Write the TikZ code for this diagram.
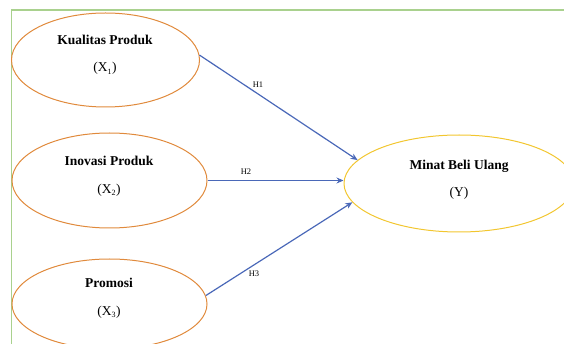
\documentclass[tikz,border=0pt]{standalone}
\usepackage{fontspec}
\setmainfont{Liberation Serif}
\usetikzlibrary{shapes.geometric,arrows.meta}

\definecolor{frame}{HTML}{A9D18E}
\definecolor{varline}{HTML}{E08A3C}
\definecolor{depline}{HTML}{F2C62F}
\definecolor{pathline}{HTML}{4A68B8}

\newcommand{\varsub}[1]{\textsubscript{\fontsize{8}{8}\selectfont#1}}

\begin{document}
\begin{tikzpicture}[x=1pt,y=-1pt,
	var/.style={ellipse, draw=varline, line width=1pt, inner sep=0pt},
	dep/.style={ellipse, draw=depline, line width=1pt, inner sep=0pt},
	vartext/.style={align=center, font=\fontsize{13.5}{27.5}\selectfont},
	hyp/.style={draw=pathline, line width=1.2pt, -{Stealth[length=7pt,width=6pt]}},
	hlabel/.style={font=\fontsize{8.5}{10}\selectfont, inner sep=1pt}]

	\useasboundingbox (0,0) rectangle (564,344);

	% frame
	\draw[frame, line width=1.5pt] (11.5,344) -- (11.5,10) -- (564,10);

	% variables
	\node[var, minimum width=188pt, minimum height=94pt] (kp) at (105.5,60) {};
	\node[var, minimum width=195pt, minimum height=95pt] (ip) at (109.5,180.5) {};
	\node[var, minimum width=195pt, minimum height=90pt] (pr) at (109.5,304) {};
	\node[dep, minimum width=230pt, minimum height=97pt] (mbu) at (459,183.5) {};

	\node[vartext] (kptext) at (105,55) {\textbf{Kualitas Produk}\\(X\varsub{1})};
	\node[vartext] (iptext) at (109,176.5) {\textbf{Inovasi Produk}\\(X\varsub{2})};
	\node[vartext] (prtext) at (109,298.5) {\textbf{Promosi}\\(X\varsub{3})};
	\node[vartext] (mbutext) at (459,180) {\textbf{Minat Beli Ulang}\\(Y)};

	% hypotheses
	\draw[hyp] (kp.3) -- (mbu.167);
	\draw[hyp] (ip.east) -- (ip.east -| mbu.west);
	\draw[hyp] (pr.5) -- (mbu.190);

	\node[hlabel] (h1) at (258,85) {H1};
	\node[hlabel] (h2) at (246,172) {H2};
	\node[hlabel] (h3) at (254,274) {H3};

\end{tikzpicture}
\end{document}
